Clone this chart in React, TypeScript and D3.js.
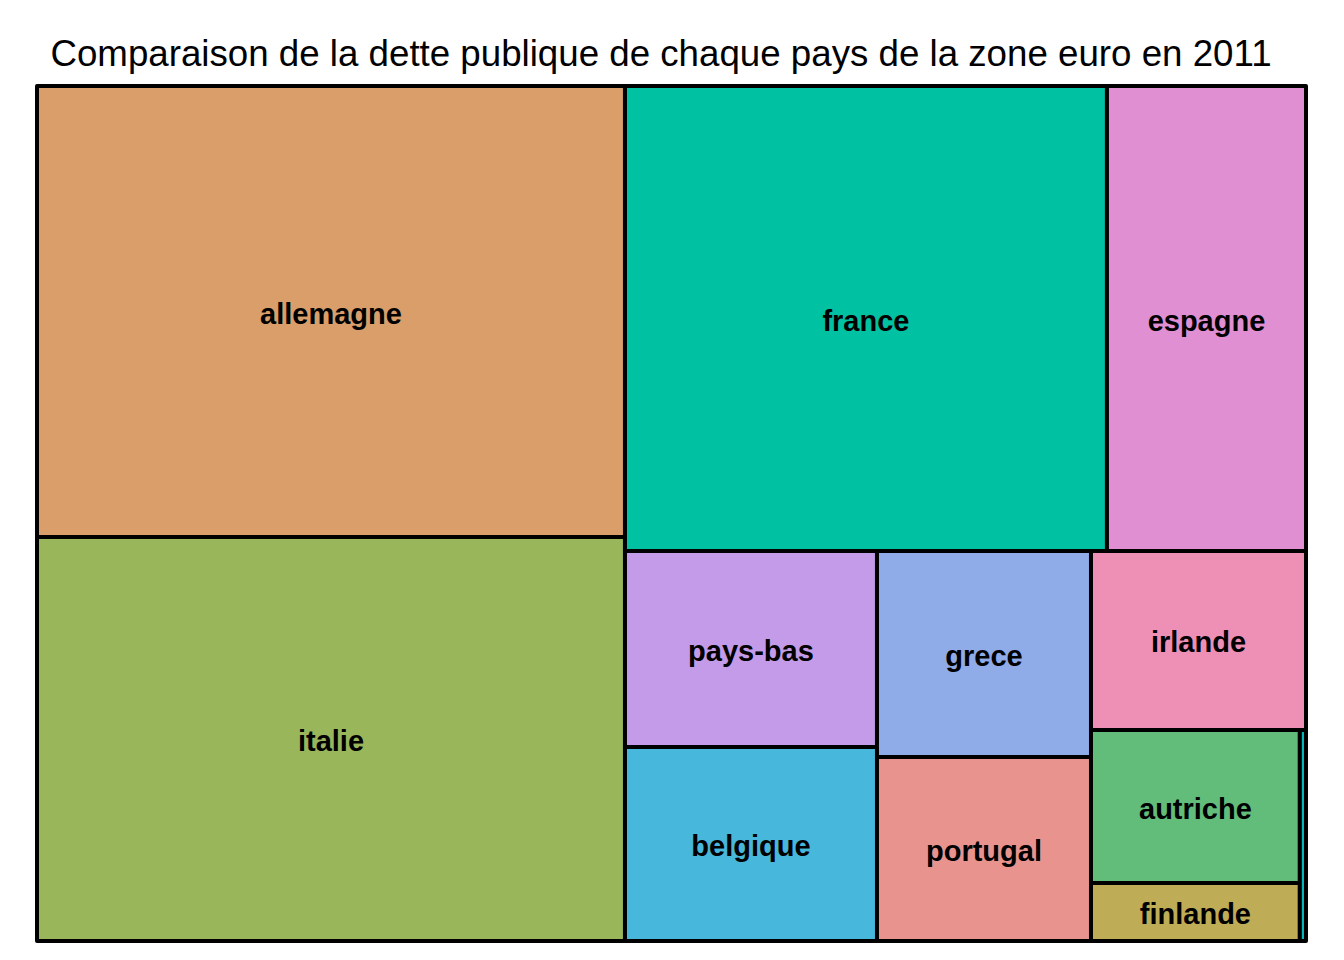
import React, { useEffect, useRef } from 'react';
import * as d3 from 'd3';

// dette publique 2011 (milliards d'euros)
const pays = [
  'allemagne', 'italie', 'france', 'espagne', 'pays-bas', 'belgique',
  'grece', 'portugal', 'irlande', 'autriche', 'finlande', 'slovaquie',
];
const dette = [2040, 1827, 1724, 712, 380, 376, 339, 303, 296, 246, 93, 10];
const couleurs = [
  '#D99E6A', '#99B65A', '#00C1A1', '#E08FD2', '#C49BE8', '#47B7DC',
  '#8FABE8', '#E9938F', '#EE8FB6', '#62BD7A', '#BEAC56', '#00B8BC',
];

// how the tiles are nested in the original picture ('h' = side by side, 'v' = stacked)
const blocs: any = ['h',
  ['v', 'allemagne', 'italie'],
  ['v',
    ['h', 'france', 'espagne'],
    ['h',
      ['v', 'pays-bas', 'belgique'],
      ['v', 'grece', 'portugal'],
      ['v', 'irlande', ['h', ['v', 'autriche', 'finlande'], 'slovaquie']],
    ],
  ],
];

const titre = 'Comparaison de la dette publique de chaque pays de la zone euro en 2011';

const toTree = (b: any): any => {
  if (typeof b === 'string') {
    const i = pays.indexOf(b);
    return { name: b, value: dette[i], color: couleurs[i] };
  }
  const [dir, ...rest] = b;
  return { dir, children: rest.map(toTree) };
};

const Treemap = ({ width = 1344, height = 960 }) => {
  const svgRef = useRef<SVGSVGElement>(null);

  useEffect(() => {
    const svg = d3.select(svgRef.current);
    svg.selectAll('*').remove();

    const margin = { top: 86, right: 38, bottom: 19, left: 37 };
    const innerWidth = width - margin.left - margin.right;
    const innerHeight = height - margin.top - margin.bottom;

    svg
      .append('text')
      .attr('x', 661)
      .attr('y', 66)
      .attr('text-anchor', 'middle')
      .attr('font-family', 'Liberation Sans, Arial, sans-serif')
      .attr('font-size', 36.7)
      .attr('fill', '#000')
      .text(titre);

    const root = d3
      .hierarchy(toTree(blocs))
      .sum((d: any) => d.value || 0);

    d3
      .treemap()
      .size([innerWidth, innerHeight])
      .tile((node: any, x0, y0, x1, y1) => {
        if (node.data.dir === 'h') d3.treemapDice(node, x0, y0, x1, y1);
        else d3.treemapSlice(node, x0, y0, x1, y1);
      })(root as any);

    const g = svg
      .append('g')
      .attr('transform', `translate(${margin.left},${margin.top})`);

    const leaves = g
      .selectAll('g.tile')
      .data(root.leaves())
      .join('g')
      .attr('class', 'tile');

    leaves
      .append('rect')
      .attr('x', (d: any) => d.x0)
      .attr('y', (d: any) => d.y0)
      .attr('width', (d: any) => d.x1 - d.x0)
      .attr('height', (d: any) => d.y1 - d.y0)
      .attr('fill', (d: any) => d.data.color)
      .attr('stroke', '#000')
      .attr('stroke-width', 4)
      .attr('stroke-linejoin', 'round');

    leaves
      .append('text')
      .attr('x', (d: any) => (d.x0 + d.x1) / 2)
      .attr('y', (d: any) => (d.y0 + d.y1) / 2 + 2)
      .attr('text-anchor', 'middle')
      .attr('dominant-baseline', 'central')
      .attr('font-family', 'Liberation Sans, Arial, sans-serif')
      .attr('font-weight', 'bold')
      .attr('font-size', 29)
      .attr('fill', '#000')
      .text((d: any) => d.data.name)
      .each(function (d: any) {
        const w = (this as SVGTextElement).getComputedTextLength();
        if (w > d.x1 - d.x0 - 4 || 29 > d.y1 - d.y0) d3.select(this).remove();
      });
  }, []);

  return <svg ref={svgRef} width={width} height={height} style={{ display: 'block' }} />;
};

export default function App() {
  return (
    <div style={{ margin: -8 }}>
      <Treemap />
    </div>
  );
}
